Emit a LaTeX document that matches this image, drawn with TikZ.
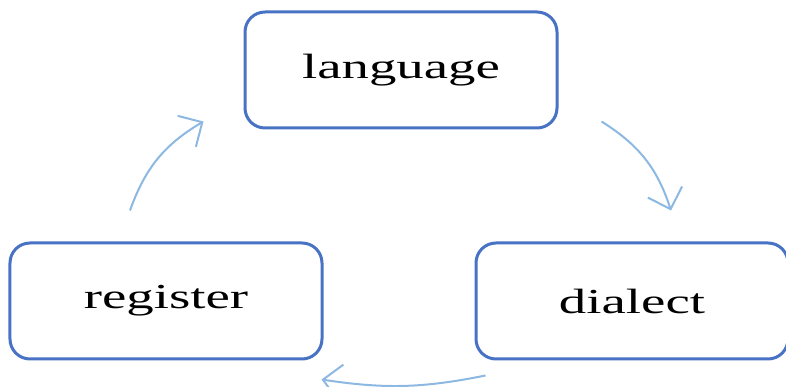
\documentclass[tikz,border=0pt]{standalone}
\usepackage{fontspec}
\setmainfont{Liberation Serif}[FakeStretch=1.56]
\usepackage{tikz}
\usetikzlibrary{calc,positioning,arrows.meta}
\definecolor{boxblue}{RGB}{72,114,196}
\definecolor{arrowblue}{RGB}{140,184,226}
\tikzset{
    every node/.style={
        font=\fontsize{25}{30}\selectfont
    },
    term/.style={
        shape=rectangle,
        draw=boxblue,
        line width=0.075cm,
        rounded corners=0.5cm,
        minimum width=7.8cm,
        minimum height=2.9cm,
        text centered
    },
    cyclearrow/.style={
        draw=arrowblue,
        line width=0.05cm,
        -{Straight Barb[length=0.45cm,width=0.9cm]},
        bend left
    }
}

\begin{document}
\begin{tikzpicture}
		\useasboundingbox (0,0) rectangle (19.65,-9.675);
		\node (lang) at (10.025, -1.75) [term] {language};
		\node (reg) at (4.15, -7.525) [term] {register};
		\node (dia) at (15.8, -7.525) [term] {dialect};
		
		\draw [cyclearrow, bend left=20] ([shift={(1.075,0.2)}]lang.south east) to ([shift={(0.975,0.775)}]dia.north);
		\draw [cyclearrow, bend left=10] ([shift={(0.275,-0.375)}]dia.south west) to ([shift={(-0.05,-0.475)}]reg.south east);
		\draw [cyclearrow, bend left=20] ([shift={(-0.9,0.775)}]reg.north) to ([shift={(-1.0,0.2)}]lang.south west);
	\end{tikzpicture}
\end{document}
